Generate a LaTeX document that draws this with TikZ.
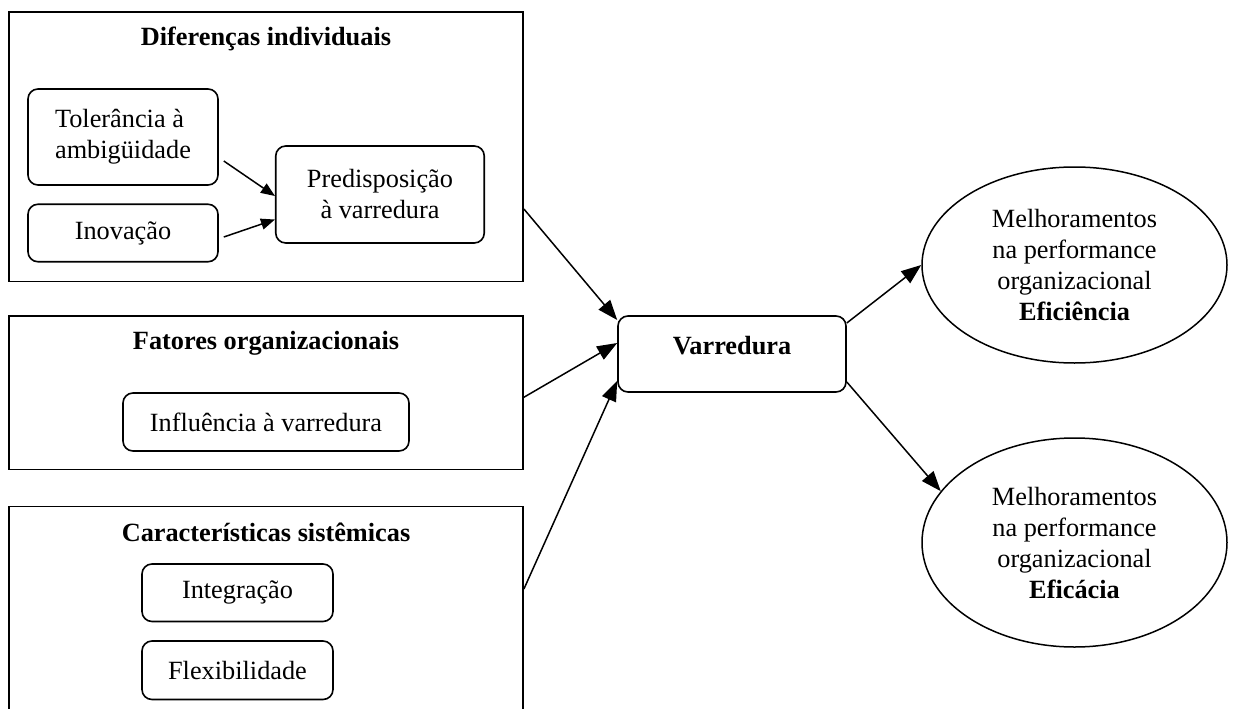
\documentclass[tikz,border=0pt]{standalone}
\usepackage{fontspec}
\setmainfont{Liberation Serif}
\usetikzlibrary{arrows.meta,shapes.geometric}
\begin{document}
\begin{tikzpicture}[x=1pt,y=-1pt,
  every node/.style={font=\fontsize{26.3}{31}\selectfont, inner sep=0pt},
  outer/.style={draw, line width=1.8pt, rectangle},
  rbox/.style={draw, line width=1.6pt, rounded corners=10pt, align=center},
  ell/.style={draw, line width=1.5pt, ellipse, align=center},
  ttl/.style={font=\fontsize{26.3}{31}\selectfont\bfseries},
  arr/.style={line width=1.5pt, -{Triangle[length=20pt,width=15pt]}},
  sarr/.style={line width=1.5pt, -{Triangle[length=14pt,width=11pt]}}
]
\useasboundingbox (0,0) rectangle (1234,709);
\clip (0,0) rectangle (1234,709);
% Diferencas individuais
\node[outer, minimum width=514pt, minimum height=269.5pt] (b1) at (266,146.75) {};
\node[ttl] (t1) at (266,39) {Diferenças individuais};
\node[rbox, minimum width=190pt, minimum height=96pt, align=left] (tol) at (123,137) {Tolerância à\\ambigüidade};
\node[rbox, minimum width=190pt, minimum height=57.5pt] (ino) at (123,233) {Inovação};
\node[rbox, minimum width=208.5pt, minimum height=97pt] (pre) at (380,194.5) {Predisposição\\à varredura};
% Fatores organizacionais
\node[outer, minimum width=514pt, minimum height=153.5pt] (b2) at (266,392.75) {};
\node[ttl] (t2) at (266,343) {Fatores organizacionais};
\node[rbox, minimum width=286pt, minimum height=58pt] (inf) at (266,422) {Influência à varredura};
% Caracteristicas sistemicas
\node[outer, minimum width=514pt, minimum height=253.5pt] (b3) at (266,633.25) {};
\node[ttl] (t3) at (266,532) {Características sistêmicas};
\node[rbox, minimum width=191pt, minimum height=57.5pt] (int) at (237.5,592.75) {Integração};
\node[rbox, minimum width=191pt, minimum height=58.5pt] (flx) at (237.5,670.25) {Flexibilidade};
% Varredura
\node[rbox, minimum width=228pt, minimum height=76pt, text height=10pt, text depth=10pt, font=\fontsize{26.3}{31}\selectfont\bfseries] (var) at (732,354) {Varredura};
% Ellipses
\node[ell, minimum width=305pt, minimum height=196pt] (e1) at (1074.5,265) {Melhoramentos\\na performance\\organizacional\\\textbf{Eficiência}};
\node[ell, minimum width=305pt, minimum height=209pt] (e2) at (1074.5,542.5) {Melhoramentos\\na performance\\organizacional\\\textbf{Eficácia}};
% Arrows
\draw[sarr] ([shift={(5,24)}]tol.east) -- ([shift={(0,1.5)}]pre.west);
\draw[sarr] ([shift={(5,4)}]ino.east) -- ([shift={(0,25)}]pre.west);
\draw[arr] ([shift={(0,62.25)}]b1.east) -- ([shift={(0,-34)}]var.west);
\draw[arr] ([shift={(0,4.5)}]b2.east) -- ([shift={(0,-11)}]var.west);
\draw[arr] ([shift={(0,-44.25)}]b3.east) -- ([shift={(0,27)}]var.west);
\draw[arr] ([shift={(0,-31)}]var.east) -- (e1.west);
\draw[arr] ([shift={(0,28)}]var.east) -- (e2.159.8);
\end{tikzpicture}
\end{document}
